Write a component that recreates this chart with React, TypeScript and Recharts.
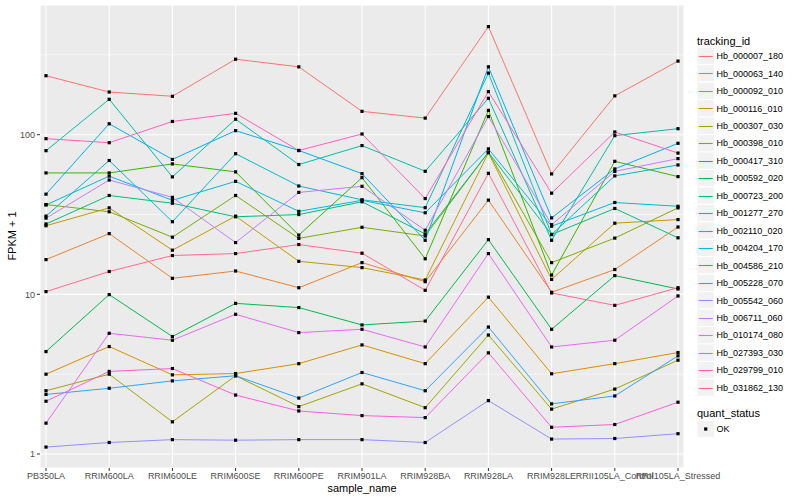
import { LineChart, Line, XAxis, YAxis, CartesianGrid, ReferenceLine } from 'recharts';

const categories = [
  'PB350LA', 'RRIM600LA', 'RRIM600LE', 'RRIM600SE', 'RRIM600PE', 'RRIM901LA',
  'RRIM928BA', 'RRIM928LA', 'RRIM928LE', 'RRII105LA_Control', 'RRII105LA_Stressed',
];

const trackingIds = [
  'Hb_000007_180', 'Hb_000063_140', 'Hb_000092_010', 'Hb_000116_010', 'Hb_000307_030',
  'Hb_000398_010', 'Hb_000417_310', 'Hb_000592_020', 'Hb_000723_200', 'Hb_001277_270',
  'Hb_002110_020', 'Hb_004204_170', 'Hb_004586_210', 'Hb_005228_070', 'Hb_005542_060',
  'Hb_006711_060', 'Hb_010174_080', 'Hb_027393_030', 'Hb_029799_010', 'Hb_031862_130',
];

// FPKM + 1, one value per sample
const hb000007_180 = [234, 185, 174, 297, 266, 140, 127, 475, 56.8, 175, 289];
const hb000063_140 = [16.5, 24.0, 12.6, 14.0, 11.0, 15.8, 12.0, 38.9, 10.3, 14.3, 26.4];
const hb000092_010 = [3.16, 4.71, 3.13, 3.19, 3.68, 4.82, 3.68, 9.6, 3.18, 3.68, 4.32];
const hb000116_010 = [26.9, 34.8, 18.9, 30.9, 16.1, 14.7, 12.3, 77, 12.4, 27.9, 29.4];
const hb000307_030 = [2.49, 3.16, 1.59, 3.09, 1.98, 2.75, 1.95, 5.56, 1.91, 2.55, 3.87];
const hb000398_010 = [36.5, 32.9, 22.8, 41.6, 22.4, 26.3, 23.2, 77.5, 15.8, 22.5, 34.8];
const hb000417_310 = [57.6, 57.6, 65.6, 58.5, 23.5, 53.8, 16.7, 142, 13.2, 68.1, 54.6];
const hb000592_020 = [4.38, 9.96, 5.44, 8.78, 8.26, 6.43, 6.8, 22.0, 6.04, 13.1, 10.8];
const hb000723_200 = [27.6, 41.6, 37.2, 30.6, 31.6, 38, 23.9, 77.5, 23.7, 34.5, 22.6];
const hb001277_270 = [79.4, 166.6, 54.4, 125, 65, 85.4, 59, 169, 21.8, 98.6, 109];
const hb002110_020 = [30.9, 68.9, 28.5, 76, 47.7, 39.1, 34.9, 243, 23.7, 55.2, 64.6];
const hb004204_170 = [36.3, 55, 38.8, 51, 33.1, 38.8, 32.4, 81.5, 26.7, 37.6, 35.6];
const hb004586_210 = [42.4, 117, 70, 106, 79.6, 57, 21.8, 266, 30.1, 61, 88.3];
const hb005228_070 = [2.36, 2.58, 2.87, 3.09, 2.24, 3.24, 2.49, 6.24, 2.06, 2.31, 4.12];
const hb005542_060 = [1.105, 1.18, 1.23, 1.22, 1.23, 1.23, 1.18, 2.16, 1.24, 1.25, 1.34];
const hb006711_060 = [30, 52, 40.5, 21.1, 43.5, 47.5, 25.2, 130, 27.3, 58.9, 70.8];
const hb010174_080 = [1.56, 5.7, 5.16, 7.5, 5.76, 6.04, 4.68, 18.0, 4.68, 5.16, 9.77];
const hb027393_030 = [2.14, 3.29, 3.43, 2.34, 1.86, 1.74, 1.69, 4.3, 1.47, 1.53, 2.11];
const hb029799_010 = [94.4, 89.1, 121, 136, 79.6, 101, 39.8, 186, 43, 104, 76.7];
const hb031862_130 = [10.4, 13.9, 17.5, 18.0, 20.5, 18.1, 10.6, 57.3, 10.2, 8.53, 11.0];

const seriesValues = [
  hb000007_180, hb000063_140, hb000092_010, hb000116_010, hb000307_030,
  hb000398_010, hb000417_310, hb000592_020, hb000723_200, hb001277_270,
  hb002110_020, hb004204_170, hb004586_210, hb005228_070, hb005542_060,
  hb006711_060, hb010174_080, hb027393_030, hb029799_010, hb031862_130,
];

// ggplot hue_pal()(20)
const colors = [
  '#F8766D', '#EA8331', '#D89000', '#C09B00', '#A3A500', '#7CAE00', '#39B600', '#00BB4E',
  '#00BF7D', '#00C1A3', '#00BFC4', '#00BAE0', '#00B0F6', '#35A2FF', '#9590FF', '#C77CFF',
  '#E76BF3', '#FA62DB', '#FF62BC', '#FF6C91',
];

const yTicks = [1, 10, 100];
const yMinor = [10 ** 0.5, 10 ** 1.5, 10 ** 2.5];

const data = categories.map((name, i) => {
  const row: Record<string, string | number> = { name };
  trackingIds.forEach((id, s) => {
    row[id] = seriesValues[s][i];
  });
  return row;
});

const font = '"Liberation Sans", Arial, sans-serif';

function SquareDot(props: any) {
  const { cx, cy, index, dataKey } = props;
  if (cx == null || cy == null) return <g key={`${dataKey}-${index}`} />;
  return <rect key={`${dataKey}-${index}`} x={cx - 1.6} y={cy - 1.6} width={3.2} height={3.2} fill="#000" />;
}

function LegendBox() {
  const rowH = 17.45;
  const top = 56;
  return (
    <svg width={110} height={500} style={{ position: 'absolute', left: 690, top: 0 }}>
      <text x={7} y={44.5} fontSize={11} fontFamily={font} fill="#000">tracking_id</text>
      {trackingIds.map((id, i) => {
        const cy = top + i * rowH;
        const ly = Math.round(cy) + 0.5;
        return (
          <g key={id}>
            <rect x={7} y={cy - rowH / 2} width={rowH} height={rowH} fill="#F2F2F2" stroke="#fff" strokeWidth={1} />
            <line x1={8.7} x2={7 + rowH - 1.7} y1={ly} y2={ly} stroke={colors[i]} strokeWidth={1.1} />
            <text x={26.5} y={cy + 3.2} fontSize={9} fontFamily={font} fill="#000">{id}</text>
          </g>
        );
      })}
      <text x={7} y={416.5} fontSize={11} fontFamily={font} fill="#000">quant_status</text>
      <rect x={7} y={429 - rowH / 2} width={rowH} height={rowH} fill="#F2F2F2" stroke="#fff" strokeWidth={1} />
      <rect x={7 + rowH / 2 - 1.6} y={429 - 1.6} width={3.2} height={3.2} fill="#000" />
      <text x={26.5} y={432.2} fontSize={9} fontFamily={font} fill="#000">OK</text>
    </svg>
  );
}

export default function App() {
  return (
    <div style={{ position: 'absolute', left: 0, top: 0, width: 800, height: 500, background: '#fff', fontFamily: font }}>
      <LineChart width={800} height={500} data={data} margin={{ top: 5, right: 116, bottom: 0, left: 0 }}>
        <CartesianGrid fill="#EBEBEB" stroke="#fff" strokeWidth={1.1} />
        {yMinor.map(v => (
          <ReferenceLine key={v} y={v} stroke="#fff" strokeWidth={0.55} />
        ))}
        <XAxis
          dataKey="name"
          interval={0}
          padding={{ left: 6, right: 6 }}
          height={32}
          axisLine={false}
          tickSize={3}
          tickLine={{ stroke: '#333' }}
          tick={{ fontSize: 9, fill: '#4D4D4D', fontFamily: font }}
        />
        <YAxis
          type="number"
          scale="log"
          domain={[0.817, 649]}
          allowDataOverflow
          ticks={yTicks}
          width={40}
          axisLine={false}
          tickSize={3}
          tickLine={{ stroke: '#333' }}
          tick={{ fontSize: 9, fill: '#4D4D4D', fontFamily: font }}
        />
        {trackingIds.map((id, i) => (
          <Line
            key={id}
            dataKey={id}
            stroke={colors[i]}
            strokeWidth={1}
            dot={false}
            activeDot={false}
            isAnimationActive={false}
          />
        ))}
        {trackingIds.map(id => (
          <Line
            key={`${id}-pts`}
            dataKey={id}
            stroke="none"
            dot={SquareDot}
            activeDot={false}
            legendType="none"
            isAnimationActive={false}
          />
        ))}
      </LineChart>
      <div style={{ position: 'absolute', left: 362, top: 481, transform: 'translateX(-50%)', fontSize: 11, whiteSpace: 'nowrap', lineHeight: '14px' }}>
        sample_name
      </div>
      <div style={{ position: 'absolute', left: 12, top: 236, transform: 'translate(-50%, -50%) rotate(-90deg)', fontSize: 11, whiteSpace: 'nowrap', lineHeight: '14px' }}>
        FPKM + 1
      </div>
      <LegendBox />
    </div>
  );
}
